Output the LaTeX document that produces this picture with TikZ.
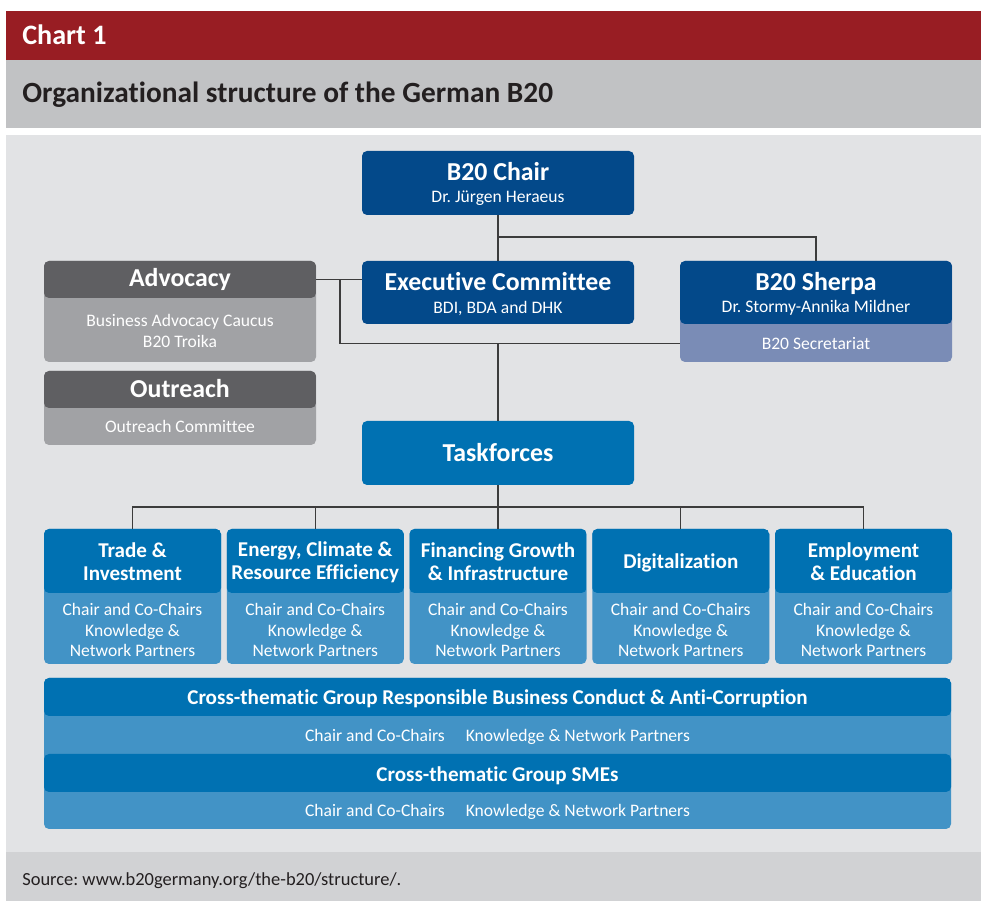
\documentclass[tikz,border=0pt]{standalone}
\usepackage{fontspec}
\setmainfont{Carlito}[Ligatures=NoCommon]
\usepackage{xcolor}
\usetikzlibrary{positioning,calc}
\frenchspacing
\definecolor{chartred}{HTML}{981D23}
\definecolor{titlegray}{HTML}{C1C2C4}
\definecolor{panelgray}{HTML}{E2E3E5}
\definecolor{sourcegray}{HTML}{D1D2D4}
\definecolor{navy}{HTML}{03498A}
\definecolor{tfblue}{HTML}{0071B2}
\definecolor{tflight}{HTML}{4293C6}
\definecolor{advdark}{HTML}{5F5F62}
\definecolor{advlight}{HTML}{A1A2A5}
\definecolor{secblue}{HTML}{7A8CB6}
\definecolor{linegray}{HTML}{3C3C3C}
\definecolor{titletext}{HTML}{231F20}
\newcommand{\pix}{0.02cm}
\newcommand{\chartfont}{\bfseries\fontsize{16}{19}\selectfont}
\newcommand{\titlefont}{\bfseries\fontsize{16.7}{19}\selectfont}
\newcommand{\bigfont}{\bfseries\fontsize{14.7}{17}\selectfont}
\newcommand{\subfont}{\fontsize{10}{12}\selectfont}
\newcommand{\tffont}{\bfseries\fontsize{12}{13}\selectfont}
\newcommand{\bodyfont}{\fontsize{10}{11.9}\selectfont}
\newcommand{\crossfont}{\bfseries\fontsize{12}{14}\selectfont}
\newcommand{\srcfont}{\fontsize{10.5}{12}\selectfont}

\begin{document}
\begin{tikzpicture}[x=\pix, y=-\pix,
        block/.style={rounded corners=0.1cm, inner sep=0pt, minimum width=272*\pix},
        twotone/.style n args={3}{block, fill=#2, path picture={
            \fill[#1] (path picture bounding box.north west) rectangle ([yshift=-#3*\pix]path picture bounding box.north east);}},
        txt/.style={text=white, align=center, inner sep=0pt},
        link/.style={draw=linegray, line width=0.7pt}
    ]
        % Frame
        \fill[white] (0,0) rectangle (981,901);
        \useasboundingbox (0,0) rectangle (981,901);
        \fill[chartred] (6,11) rectangle (981,60);
        \fill[titlegray] (6,60) rectangle (981,128);
        \fill[panelgray] (6,135) rectangle (981,852);
        \fill[sourcegray] (6,852) rectangle (981,901);

        \node[txt, anchor=base west, font=\chartfont] (chart) at (22,45) {Chart 1};
        \node[txt, anchor=base west, font=\titlefont, text=titletext] (title) at (22,103) {Organizational structure of the German B20};
        \node[txt, anchor=base west, font=\srcfont, text=titletext] (source) at (22,886) {Source: www.b20germany.org/the-b20/structure/.};

        % Chair
        \node[block, fill=navy, minimum height=64*\pix] (chair) at (498,183) {};
        \node[txt, anchor=base, font=\bigfont] (chairt) at (498,181) {B20 Chair};
        \node[txt, anchor=base, font=\subfont] (chairs) at (498,203) {Dr. Jürgen Heraeus};

        % Executive Committee
        \node[block, fill=navy, minimum height=63*\pix] (exec) at (498,292.5) {};
        \node[txt, anchor=base, font=\bigfont] (exect) at (498,291) {Executive Committee};
        \node[txt, anchor=base, font=\subfont] (execs) at (498,314) {BDI, BDA and DHK};

        % Sherpa
        \node[twotone={navy}{secblue}{63}, minimum height=101*\pix] (sherpa) at (816,311.5) {};
        \node[txt, anchor=base, font=\bigfont] (sherpat) at (816,291) {B20 Sherpa};
        \node[txt, anchor=base, font=\subfont] (sherpas) at (816,313) {Dr. Stormy-Annika Mildner};
        \node[txt, anchor=base, font=\subfont] (sect) at (816,350) {B20 Secretariat};

        % Advocacy and Outreach
        \node[twotone={advdark}{advlight}{37}, minimum height=101*\pix] (adv) at (180,311.5) {};
        \node[txt, anchor=base, font=\bigfont] (advt) at (180,287) {Advocacy};
        \node[txt, font=\subfont] (advb) at (180,331) {Business Advocacy Caucus\\B20 Troika};
        \node[twotone={advdark}{advlight}{37}, minimum height=74*\pix] (out) at (180,408) {};
        \node[txt, anchor=base, font=\bigfont] (outt) at (180,398) {Outreach};
        \node[txt, anchor=base, font=\subfont] (outb) at (180,433) {Outreach Committee};

        % Taskforces
        \node[block, fill=tfblue, minimum height=64*\pix] (tf) at (498,453) {};
        \node[txt, anchor=base, font=\bigfont] (tft) at (498,462) {Taskforces};

        % Taskforce boxes
        \node[twotone={tfblue}{tflight}{64}, minimum width=177*\pix, minimum height=135*\pix] (trade) at (132.5,596.5) {};
        \node[txt, font=\tffont] (tradeh) at (132.5,562) {Trade \&\\Investment};
        \node[txt, font=\bodyfont] (tradeb) at (132.5,630) {Chair and Co-Chairs\\Knowledge \&\\Network Partners};

        \node[twotone={tfblue}{tflight}{64}, minimum width=177*\pix, minimum height=135*\pix] (energy) at (315.25,596.5) {};
        \node[txt, font=\tffont] (energyh) at (315.25,562) {Energy, Climate \&\\Resource Efficiency};
        \node[txt, font=\bodyfont] (energyb) at (315.25,630) {Chair and Co-Chairs\\Knowledge \&\\Network Partners};

        \node[twotone={tfblue}{tflight}{64}, minimum width=177*\pix, minimum height=135*\pix] (fin) at (498,596.5) {};
        \node[txt, font=\tffont] (finh) at (498,562) {Financing Growth\\\& Infrastructure};
        \node[txt, font=\bodyfont] (finb) at (498,630) {Chair and Co-Chairs\\Knowledge \&\\Network Partners};

        \node[twotone={tfblue}{tflight}{64}, minimum width=177*\pix, minimum height=135*\pix] (digi) at (680.75,596.5) {};
        \node[txt, anchor=base, font=\tffont] (digih) at (680.75,569) {Digitalization};
        \node[txt, font=\bodyfont] (digib) at (680.75,630) {Chair and Co-Chairs\\Knowledge \&\\Network Partners};

        \node[twotone={tfblue}{tflight}{64}, minimum width=177*\pix, minimum height=135*\pix] (emp) at (863.5,596.5) {};
        \node[txt, font=\tffont] (emph) at (863.5,562) {Employment\\\& Education};
        \node[txt, font=\bodyfont] (empb) at (863.5,630) {Chair and Co-Chairs\\Knowledge \&\\Network Partners};

        % Cross-thematic groups
        \node[block, fill=tflight, minimum width=907*\pix, minimum height=151*\pix, path picture={
            \fill[tfblue] (path picture bounding box.north west) rectangle ([yshift=-38*\pix]path picture bounding box.north east);
            \fill[tfblue] ([yshift=-76*\pix]path picture bounding box.north west) rectangle ([yshift=-114*\pix]path picture bounding box.north east);}] (cross) at (497.5,753.5) {};
        \node[txt, anchor=base, font=\crossfont] (rbc) at (497.5,705) {Cross-thematic Group Responsible Business Conduct \& Anti-Corruption};
        \node[txt, anchor=base, font=\subfont] (rbcb) at (497.5,742) {Chair and Co-Chairs\hspace{1.2em}Knowledge \& Network Partners};
        \node[txt, anchor=base, font=\crossfont] (sme) at (497.5,782) {Cross-thematic Group SMEs};
        \node[txt, anchor=base, font=\subfont] (smeb) at (497.5,817) {Chair and Co-Chairs\hspace{1.2em}Knowledge \& Network Partners};

        % Junctions
        \coordinate (sherpaj) at (498,237);
        \coordinate (advj) at ([yshift=-18.5*\pix]adv.north east);
        \coordinate (leftj) at (340,279.5);
        \coordinate (secj) at ([yshift=19*\pix]sherpa.south west);
        \coordinate (bus) at (498,507);

        % Lines
        \draw[link] (chair) -- (exec);
        \draw[link] (sherpaj) -| (sherpa);
        \draw[link] (advj) -- (advj -| exec.west);
        \draw[link] (leftj) |- (secj);
        \draw[link] (tf) -- (tf |- secj);
        \draw[link] (tf) -- (fin);
        \draw[link] (trade) |- (bus) -| (emp);
        \draw[link] (energy) -- (energy |- bus);
        \draw[link] (digi) -- (digi |- bus);
    \end{tikzpicture}
\end{document}
